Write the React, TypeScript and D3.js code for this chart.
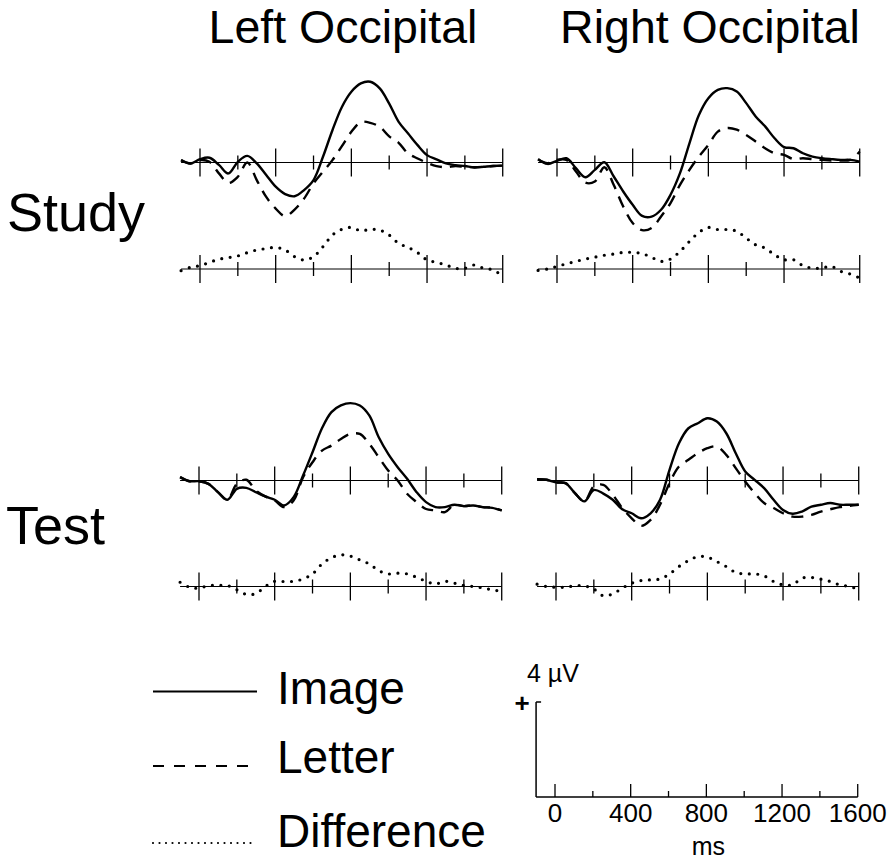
import * as d3 from 'd3';

const times = [
  -100, -50, 0, 50, 100, 150, 200, 250, 300, 350, 400, 450, 500, 550, 600, 650, 700, 750,
  800, 850, 900, 950, 1000, 1050, 1100, 1150, 1200, 1250, 1300, 1350, 1400, 1450, 1500, 1550, 1600,
];

const columnTitles = ['Left Occipital', 'Right Occipital'];
const rowTitles = ['Study', 'Test'];
const legendLabels = ['Image', 'Letter', 'Difference'];
const scaleTicks = [0, 200, 400, 600, 800, 1000, 1200, 1400, 1600];
const scaleTickLabels = ['0', '400', '800', '1200', '1600'];
const panelTicks = [0, 200, 400, 600, 800, 1000, 1200, 1400, 1600];

// amplitudes in microvolts
const studyLeftImage = [
  0.1, -0.04, 0.14, 0.2, -0.1, -0.46, 0.03, 0.28, -0.04, -0.53, -1.02, -1.33, -1.42, -1.16, -0.74, 0.24, 1.36, 2.34,
  2.98, 3.33, 3.4, 3.12, 2.48, 1.71, 1.22, 0.73, 0.31, 0.13, -0.04, -0.11, -0.15, -0.21, -0.18, -0.15, -0.13,
];
const studyLeftLetter = [
  0.1, -0.04, 0.1, 0.03, -0.46, -0.86, -0.6, 0.0, -0.74, -1.45, -1.94, -2.26, -1.98, -1.52, -0.88, -0.39, 0.1, 0.69,
  1.29, 1.7, 1.67, 1.5, 1.1, 0.83, 0.38, 0.17, -0.01, -0.15, -0.2, -0.15, -0.18, -0.2, -0.18, -0.15, -0.13,
];
const studyLeftDiff = [
  -0.07, 0.07, 0.14, 0.28, 0.41, 0.48, 0.55, 0.69, 0.8, 0.86, 0.91, 0.8, 0.52, 0.38, 0.52, 0.94, 1.43, 1.67,
  1.75, 1.61, 1.67, 1.64, 1.43, 1.08, 0.91, 0.69, 0.38, 0.28, 0.17, 0.03, 0.03, 0.17, 0.03, -0.04, -0.3,
];
const studyRightImage = [
  0.14, -0.06, 0.07, 0.18, -0.24, -0.62, -0.31, 0.01, -0.59, -1.22, -1.78, -2.25, -2.28, -1.99, -1.36, -0.45, 0.81, 2.0,
  2.71, 3.06, 3.13, 2.99, 2.5, 1.94, 1.52, 1.02, 0.65, 0.6, 0.39, 0.25, 0.18, 0.14, 0.11, 0.11, 0.04,
];
const studyRightLetter = [
  0.14, -0.03, 0.11, 0.11, -0.38, -0.85, -0.8, -0.2, -0.95, -1.85, -2.55, -2.85, -2.76, -2.27, -1.71, -0.94, -0.31, 0.25,
  0.74, 1.3, 1.45, 1.38, 1.16, 0.88, 0.6, 0.39, 0.32, 0.14, 0.18, 0.14, 0.11, 0.08, 0.08, 0.11, 0.46,
];
const studyRightDiff = [
  -0.06, 0, 0.11, 0.22, 0.32, 0.42, 0.5, 0.58, 0.63, 0.7, 0.7, 0.65, 0.49, 0.32, 0.42, 0.74, 1.16, 1.54,
  1.75, 1.66, 1.66, 1.59, 1.3, 1.02, 0.88, 0.6, 0.39, 0.39, 0.14, 0.04, 0.04, 0.11, -0.1, -0.21, -0.38,
];
const testLeftImage = [
  0.14, -0.03, -0.03, -0.14, -0.49, -0.81, -0.35, -0.31, -0.49, -0.67, -0.81, -1.05, -0.7, 0.21, 1.19, 2.2, 2.88, 3.16,
  3.26, 3.16, 2.74, 1.82, 1.12, 0.56, 0.07, -0.49, -0.91, -1.12, -1.12, -1.02, -1.08, -1.05, -1.12, -1.15, -1.26,
];
const testLeftLetter = [
  0.14, -0.03, -0.03, -0.14, -0.49, -0.81, -0.14, 0.03, -0.42, -0.67, -0.84, -1.12, -0.84, 0.14, 0.77, 1.26, 1.47, 1.75,
  1.96, 1.96, 1.54, 0.98, 0.42, 0.0, -0.56, -0.91, -1.2, -1.26, -1.33, -1.02, -1.08, -1.05, -1.12, -1.15, -1.26,
];
const testLeftDiff = [
  0.18, -0.03, -0.07, 0.04, 0.04, 0.04, -0.14, -0.33, -0.3, 0.0, 0.22, 0.21, 0.22, 0.32, 0.53, 0.95, 1.21, 1.33,
  1.28, 1.12, 0.95, 0.67, 0.53, 0.56, 0.53, 0.39, 0.22, 0.11, 0.22, 0.14, 0.04, 0, -0.06, -0.14, -0.2,
];
const testRightImage = [
  0.06, 0.03, -0.08, -0.11, -0.53, -0.88, -0.4, -0.55, -0.81, -1.21, -1.38, -1.59, -1.38, -0.81, 0.45, 1.57, 2.2, 2.41,
  2.62, 2.48, 1.99, 1.15, 0.38, 0.03, -0.32, -0.81, -1.24, -1.4, -1.31, -1.1, -1.02, -0.95, -1.02, -1.02, -1.02,
];
const testRightLetter = [
  0.06, 0.03, -0.08, -0.11, -0.53, -0.88, -0.25, -0.18, -0.6, -1.16, -1.59, -1.91, -1.66, -1.02, -0.11, 0.59, 0.87, 1.15,
  1.36, 1.43, 1.08, 0.52, -0.04, -0.53, -0.95, -1.16, -1.38, -1.52, -1.52, -1.45, -1.31, -1.21, -1.12, -1.07, -1.02,
];
const testRightDiff = [
  0.1, 0, -0.03, -0.03, 0.03, 0.03, -0.11, -0.39, -0.31, -0.07, 0.14, 0.25, 0.28, 0.32, 0.53, 0.84, 1.09, 1.26,
  1.24, 1.05, 0.84, 0.59, 0.53, 0.53, 0.45, 0.21, 0.07, 0.07, 0.35, 0.38, 0.31, 0.21, 0.07, 0, -0.11,
];

const FONT = "'Liberation Sans', Arial, Helvetica, sans-serif";
const PX_PER_MS = 0.1892;
const PX_PER_UV = 23.75;

const panels = [
  { x0: 200, base: 162.5, diffBase: 269, image: studyLeftImage, letter: studyLeftLetter, diff: studyLeftDiff },
  { x0: 557, base: 162.5, diffBase: 269, image: studyRightImage, letter: studyRightLetter, diff: studyRightDiff },
  { x0: 199, base: 480.5, diffBase: 586.5, image: testLeftImage, letter: testLeftLetter, diff: testLeftDiff },
  { x0: 556, base: 480.5, diffBase: 586.5, image: testRightImage, letter: testRightLetter, diff: testRightDiff },
];

function Trace({ x, base, values, dash, dotted = false, width = 2.4 }) {
  const y = d3
    .scaleLinear()
    .domain([-4, 4])
    .range([base + 4 * PX_PER_UV, base - 4 * PX_PER_UV]);
  const line = d3
    .line<number>()
    .x((d, i) => x(times[i]))
    .y(d => y(d))
    .curve(d3.curveCatmullRom.alpha(0.5));
  return (
    <path
      d={line(values) || ''}
      fill="none"
      stroke="#000"
      strokeWidth={width}
      strokeDasharray={dash}
      strokeLinecap={dotted ? 'round' : 'butt'}
      strokeLinejoin="round"
    />
  );
}

function Baseline({ x, base }) {
  return (
    <g>
      <line x1={x(-100)} x2={x(1600)} y1={base} y2={base} stroke="#000" strokeWidth={1} />
      {panelTicks.map(t => {
        const h = t % 400 === 0 ? 14 : 7;
        return (
          <line key={t} x1={x(t)} x2={x(t)} y1={base - h} y2={base + h} stroke="#000" strokeWidth={1.3} />
        );
      })}
    </g>
  );
}

export default function App() {
  const scaleX = d3
    .scaleLinear()
    .domain([-100, 1600])
    .range([555 - 100 * PX_PER_MS, 555 + 1600 * PX_PER_MS]);
  const scaleBase = 797;

  return (
    <svg
      width={891}
      height={859}
      style={{ position: 'absolute', left: 0, top: 0, background: '#fff' }}
      fontFamily={FONT}
    >
      <rect width={891} height={859} fill="#fff" />
      <text x={343} y={43} fontSize={46.5} textAnchor="middle">{columnTitles[0]}</text>
      <text x={710} y={43} fontSize={46.5} textAnchor="middle">{columnTitles[1]}</text>
      <text x={7} y={231} fontSize={54}>{rowTitles[0]}</text>
      <text x={6} y={544} fontSize={54}>{rowTitles[1]}</text>

      {panels.map((p, i) => {
        const x = d3
          .scaleLinear()
          .domain([-100, 1600])
          .range([p.x0 - 100 * PX_PER_MS, p.x0 + 1600 * PX_PER_MS]);
        return (
          <g key={i}>
            <Baseline x={x} base={p.base} />
            <Baseline x={x} base={p.diffBase} />
            <Trace x={x} base={p.base} values={p.letter} dash="12 8" />
            <Trace x={x} base={p.base} values={p.image} dash={undefined} />
            <Trace x={x} base={p.diffBase} values={p.diff} dash="0 8.5" dotted width={3.2} />
          </g>
        );
      })}

      {/* legend */}
      <line x1={153} x2={257} y1={691.5} y2={691.5} stroke="#000" strokeWidth={2} />
      <line x1={153} x2={257} y1={766} y2={766} stroke="#000" strokeWidth={2} strokeDasharray="11 10" />
      <line x1={153} x2={251} y1={843} y2={843} stroke="#000" strokeWidth={2.2} strokeDasharray="0 6.5" strokeLinecap="round" />
      <text x={277} y={704} fontSize={46}>{legendLabels[0]}</text>
      <text x={277} y={773} fontSize={46}>{legendLabels[1]}</text>
      <text x={277} y={847} fontSize={46}>{legendLabels[2]}</text>

      {/* calibration bar */}
      <line x1={scaleX(-100)} x2={scaleX(-100)} y1={scaleBase - 4 * PX_PER_UV} y2={scaleBase} stroke="#000" strokeWidth={1.5} />
      <line x1={scaleX(-100)} x2={scaleX(-100) + 5} y1={scaleBase - 4 * PX_PER_UV} y2={scaleBase - 4 * PX_PER_UV} stroke="#000" strokeWidth={1.5} />
      <line x1={scaleX(-100)} x2={scaleX(1600)} y1={scaleBase} y2={scaleBase} stroke="#000" strokeWidth={1.5} />
      {scaleTicks.map(t => (
        <line key={t} x1={scaleX(t)} x2={scaleX(t)} y1={scaleBase - (t % 400 === 0 ? 13 : 6)} y2={scaleBase} stroke="#000" strokeWidth={1.3} />
      ))}
      {scaleTickLabels.map(l => (
        <text key={l} x={scaleX(+l)} y={822} fontSize={26} textAnchor="middle">{l}</text>
      ))}
      <text x={scaleX(800) + 2} y={855} fontSize={25} textAnchor="middle">ms</text>
      <text x={527} y={682} fontSize={25}>4 µV</text>
      <text x={522} y={712} fontSize={26} fontWeight="bold" textAnchor="middle">+</text>
    </svg>
  );
}
